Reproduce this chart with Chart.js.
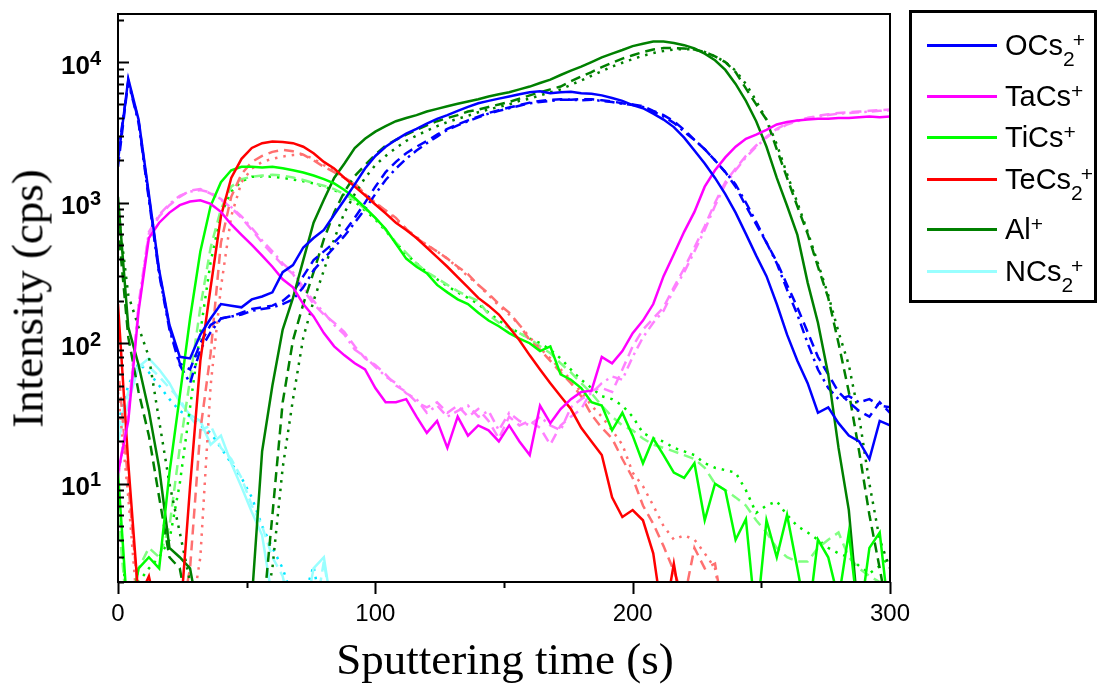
<!DOCTYPE html>
<html>
<head>
<meta charset="utf-8">
<script src="https://cdn.jsdelivr.net/npm/chart.js@4.4.1/dist/chart.umd.min.js"></script>
<style>
  html, body { margin: 0; padding: 0; background: #fff; }
  #wrap { position: relative; width: 1102px; height: 684px; overflow: hidden; }
  #chart { position: absolute; left: 0; top: 0; }
  .axis-title { position: absolute; font-family: "Liberation Serif", serif; font-size: 45px; line-height: 45px; color: #000; white-space: nowrap; text-align: center; }
  #xTitle { left: 0; width: 1010px; top: 637px; }
  #yTitle { left: -172px; top: 276px; width: 400px; height: 45px; transform: rotate(-90deg); }
  #legendBox { position: absolute; left: 909px; top: 10px; width: 188px; height: 293px; box-sizing: border-box; border: 3px solid #000; }
  .lg-line { position: absolute; left: 927px; width: 70px; height: 3px; }
  .lg-text { position: absolute; left: 1005px; font-family: "Liberation Sans", Arial, sans-serif; font-size: 29px; line-height: 29px; color: #000; white-space: nowrap; }
  .lg-text .sub, .lg-text .sup { position: relative; font-size: 21px; line-height: 21px; }
  .lg-text .sub { top: 11px; }
  .lg-text .sup { top: -8px; }
  .lg-text .sub + .sup { margin-left: -2px; }
</style>
</head>
<body>
<div id="wrap">
  <canvas id="chart" width="1102" height="684"></canvas>
  <div class="axis-title" id="xTitle">Sputtering time (s)</div>
  <div class="axis-title" id="yTitle">Intensity (cps)</div>
  <div id="legendBox"></div>
  <div id="legendItems"></div>
</div>
<script>
const TIME = [0,4,8,12,16,20,24,28,32,36,
  40,44,48,52,56,60,64,68,72,76,
  80,84,88,92,96,100,104,108,112,116,
  120,124,128,132,136,140,144,148,152,156,
  160,164,168,172,176,180,184,188,192,196,
  200,204,208,212,216,220,224,228,232,236,
  240,244,248,252,256,260,264,268,272,276,
  280,284,288,292,296,300];

const OCS_1 = [2000,7600,3900,1150,330,135,80,78,115,150,
  190,185,180,205,215,230,320,360,480,560,
  640,820,1050,1350,1750,2150,2500,2800,3100,3350,
  3650,3950,4200,4500,4800,5100,5300,5500,5700,5900,
  6100,6200,6000,6100,6150,6000,5950,5800,5550,5300,
  4950,4700,4300,3900,3450,2900,2350,1900,1500,1150,
  850,600,420,300,190,115,75,52,32,35,
  27,22,20,15,28,26];
const OCS_2 = [1800,7400,3800,1100,320,130,72,65,100,135,
  150,155,165,175,180,185,200,230,300,390,
  450,520,620,780,1000,1300,1650,1950,2250,2500,
  2750,3050,3350,3600,3850,4100,4350,4550,4750,4950,
  5150,5300,5400,5450,5400,5450,5450,5350,5250,5100,
  5000,4850,4500,4200,3800,3300,2800,2400,2000,1650,
  1300,950,700,520,380,260,180,120,80,60,
  45,38,33,30,38,32];
const OCS_3 = [2200,7200,3700,1050,310,125,70,52,90,120,
  150,155,160,170,175,180,190,205,250,330,
  400,480,580,720,900,1150,1450,1750,2050,2350,
  2650,2950,3300,3550,3800,4050,4300,4500,4700,4900,
  5100,5200,5300,5400,5400,5350,5400,5300,5200,5050,
  4950,4800,4450,4100,3700,3200,2800,2400,2000,1650,
  1350,1000,730,520,370,240,160,100,65,48,
  40,42,38,40,36,35];

const TACS_1 = [12,28,170,560,720,850,960,1020,1040,980,
  860,700,590,500,420,350,285,250,190,155,
  118,95,82,72,65,48,38,38,40,30,
  23,28,18,30,22,26,24,20,26,20,
  16,36,27,34,40,45,46,80,72,88,
  118,145,190,300,430,620,860,1300,1700,2100,
  2500,2850,3050,3300,3600,3750,3850,3900,3950,3950,
  4000,4000,4050,4100,4050,4100];
const TACS_2 = [12,30,180,600,800,960,1100,1220,1250,1160,
  1050,920,780,640,520,430,360,310,240,190,
  160,140,120,95,78,70,60,50,45,38,
  35,38,32,36,30,34,28,21,30,26,
  28,25,19,26,30,34,46,48,45,65,
  95,125,150,180,250,340,480,680,1000,1400,
  1750,2150,2550,2950,3350,3650,3850,4000,4150,4250,
  4350,4400,4450,4500,4550,4600];
const TACS_3 = [11,32,190,620,820,980,1120,1200,1230,1180,
  1060,930,800,660,540,450,370,320,250,200,
  165,135,115,90,80,68,58,52,44,40,
  32,36,30,33,36,30,33,24,32,28,
  26,30,26,24,35,40,44,52,58,55,
  80,110,140,170,240,320,450,640,950,1350,
  1700,2100,2500,2900,3300,3600,3800,4000,4100,4200,
  4300,4350,4400,4450,4500,4550];

const TICS_1 = [12,1,2.5,3,2.5,12,42,150,450,950,
  1400,1700,1800,1800,1780,1800,1760,1700,1640,1560,
  1470,1370,1230,1080,920,780,650,510,400,350,
  315,260,230,205,190,165,145,132,118,108,
  100,88,95,60,55,48,38,36,24,32,
  22,14,21,16,12,11,14,5.5,10,9,
  4,5.6,1,5.5,3,6,2.5,1,4,3,
  1.5,4.5,1,3.5,4.5,1];
const TICS_2 = [6,1,2.5,3.5,3,5,18,55,180,480,
  900,1300,1470,1530,1560,1580,1560,1510,1450,1380,
  1320,1250,1150,1040,900,780,640,520,440,370,
  320,290,260,235,215,200,160,140,128,118,
  108,95,85,72,62,52,44,36,30,26,
  24,21,19,18,17,16,15,13,10,9,
  8,7,5.5,4.5,3.5,3,2.8,2.8,3.5,4,
  4.5,3,2.5,2.2,2,2];
const TICS_3 = [8,1,2,2.5,3,4,10,35,120,380,
  820,1200,1420,1530,1540,1530,1500,1460,1420,1370,
  1300,1230,1130,1020,880,760,630,520,430,370,
  320,285,255,230,210,190,165,145,130,118,
  108,100,90,78,65,55,48,42,40,36,
  30,23,21,20,18,17,16,14,13,12.5,
  12,9,6.2,7,7.5,6,5,4.5,4,3.5,
  3.2,3,2.6,2.3,2.6,3];

const TECS_1 = [190,14,1.5,2.2,1,1,1,9.5,75,250,
  800,1500,2050,2450,2650,2720,2700,2650,2500,2250,
  1950,1750,1500,1300,1130,970,840,720,640,560,
  480,410,350,295,250,210,185,160,130,105,
  82,65,52,42,34,25,20,16,8,5.8,
  6.5,5.5,3.2,1,2.7,1,1,1,1,1,
  1,1,1,1,1,1,1,1,1,1,
  1,1,1,1,1,1];
const TECS_2 = [70,10,1.5,1,1,1,1,2.5,24,85,
  520,1100,1600,1950,2150,2300,2380,2320,2200,2000,
  1800,1650,1500,1370,1150,1000,880,780,650,560,
  500,450,400,350,310,260,225,190,165,135,
  105,90,75,62,52,42,31,25,21,15,
  11,7,5.2,3.6,2.4,1.5,3.5,2.5,2.7,1,
  1,1,1,1,1,1,1,1,1,1,
  1,1,1,1,1,1];
const TECS_3 = [45,8,1,1,1,1,1,1,3,50,
  250,800,1400,1750,1950,2050,2130,2180,2200,2050,
  1850,1680,1500,1350,1150,1000,880,760,650,570,
  500,450,400,345,300,260,220,185,160,135,
  110,92,78,65,55,45,36,30,24,19,
  12,9.6,7,5,4,4.3,4,3.2,2.5,1,
  1,1,1,1,1,1,1,1,1,1,
  1,1,1,1,1,1];

const AL_1 = [1100,130,70,33,13,3.5,3,2.5,1,1,
  1,1,1,1.5,17,50,125,210,390,720,
  1050,1500,1900,2450,2850,3200,3500,3800,4000,4200,
  4450,4650,4850,5050,5250,5450,5700,5900,6100,6400,
  6700,7100,7500,8100,8700,9300,10000,10800,11500,12200,
  13000,13500,14000,14000,13700,13200,12500,11500,10300,8800,
  7000,5300,3800,2500,1500,950,590,270,140,60,
  18,6.5,1,1,1,1];
const AL_2 = [700,110,45,22,8,3,2.5,1,1,1,
  1,1,1,1,1,6,38,105,190,320,
  550,850,1200,1550,1850,2200,2550,2800,3050,3300,
  3550,3800,4000,4200,4450,4600,4800,5000,5200,5500,
  5800,6100,6400,6700,7300,7900,8500,9200,9900,10600,
  11200,11800,12300,12600,12600,12500,12300,11800,11000,10000,
  8500,6500,5000,3900,2400,1500,940,600,350,210,
  100,45,17,6,2.5,1];
const AL_3 = [900,220,130,80,28,10,4.5,2,1,1,
  1,1,1,1,1,2.5,13,40,110,200,
  330,550,850,1150,1500,1850,2150,2450,2750,3000,
  3250,3500,3750,3950,4150,4400,4600,4800,5000,5300,
  5500,5800,6100,6400,6900,7400,8000,8600,9300,9900,
  10500,11100,11600,12000,12300,12400,12300,11800,11000,10000,
  8700,7000,5300,3900,2600,1600,1000,620,370,220,
  120,70,30,10,4,2.5];

const NCS_1 = [20,38,68,78,65,52,38,31,28,19,
  22,14,9.5,6.3,4.3,1.5,1,1,1,2.5,
  3,1,1,1,1,1,1,1,1,1,
  1,1,1,1,1,1,1,1,1,1,
  1,1,1,1,1,1,1,1,1,1,
  1,1,1,1,1,1,1,1,1,1,
  1,1,1,1,1,1,1,1,1,1,
  1,1,1,1,1,1];
const NCS_2 = [24,45,70,68,58,48,40,30,24,26,
  18,15,11,7,5,3,2.2,1,1,1,
  2.8,1,1,1,1,1,1,1,1,1,
  1,1,1,1,1,1,1,1,1,1,
  1,1,1,1,1,1,1,1,1,1,
  1,1,1,1,1,1,1,1,1,1,
  1,1,1,1,1,1,1,1,1,1,
  1,1,1,1,1,1];
const NCS_3 = [27,50,72,62,50,40,33,30,26,23,
  18,14,11,8,5,3.5,2.5,1.5,1.5,2.6,
  1,1,1,1,1,1,1,1,1,1,
  1,1,1,1,1,1,1,1,1,1,
  1,1,1,1,1,1,1,1,1,1,
  1,1,1,1,1,1,1,1,1,1,
  1,1,1,1,1,1,1,1,1,1,
  1,1,1,1,1,1];

const LEGEND = [
  { html: 'OCs<span class="sub">2</span><span class="sup">+</span>', color: '#0000ff', y: 45 },
  { html: 'TaCs<span class="sup">+</span>', color: '#ff00ff', y: 96 },
  { html: 'TiCs<span class="sup">+</span>', color: '#00ff00', y: 137 },
  { html: 'TeCs<span class="sub">2</span><span class="sup">+</span>', color: '#ff0000', y: 179 },
  { html: 'Al<span class="sup">+</span>', color: '#008000', y: 229 },
  { html: 'NCs<span class="sub">2</span><span class="sup">+</span>', color: '#99ffff', y: 271 }
];

const DASH = [10, 6];
const DOT = [2.5, 6];
const DASHDOT = [10, 5, 2.5, 5];

function series(label, values, color, dash) {
  return {
    label: label,
    data: TIME.map((t, i) => ({ x: t, y: values[i] })),
    borderColor: color,
    borderWidth: 2.5,
    borderDash: dash || [],
    pointRadius: 0,
    tension: 0,
    fill: false
  };
}

const datasets = [
  series('OCs2+ a', OCS_1, '#0000ff'),
  series('TaCs+ a', TACS_1, '#ff00ff'),
  series('TeCs2+ a', TECS_1, '#ff0000'),
  series('TiCs+ a', TICS_1, '#00ff00'),
  series('Al+ a', AL_1, '#008000'),
  series('OCs2+ b', OCS_2, '#0000ff', DASH),
  series('OCs2+ c', OCS_3, '#0000ff', DASHDOT),
  series('Al+ b', AL_2, '#008000', DASH),
  series('Al+ c', AL_3, '#008000', DOT),
  series('TaCs+ b', TACS_2, '#ff80ff', DASH),
  series('TaCs+ c', TACS_3, '#ff80ff', DASHDOT),
  series('TeCs2+ b', TECS_2, '#ff7070', DASH),
  series('TeCs2+ c', TECS_3, '#ff7070', DOT),
  series('TiCs+ b', TICS_2, '#80ff80', DASH),
  series('TiCs+ c', TICS_3, '#00ee00', DOT),
  series('NCs2+ a', NCS_1, '#99ffff'),
  series('NCs2+ b', NCS_2, '#99ffff', DASH),
  series('NCs2+ c', NCS_3, '#00e5ff', DOT)
];

// frame, inward/outward tick marks and 10^n labels
const axisDecor = {
  id: 'axisDecor',
  afterDraw(chart) {
    const { ctx, chartArea: a, scales: { x, y } } = chart;
    ctx.save();
    ctx.strokeStyle = '#000';
    ctx.lineWidth = 2;
    ctx.strokeRect(a.left, a.top, a.right - a.left, a.bottom - a.top);

    ctx.beginPath();
    for (let d = 0; d <= 4; d++) {
      for (let m = 1; m <= 9; m++) {
        const v = m * Math.pow(10, d);
        if (v < y.min || v > y.max) continue;
        const py = Math.round(y.getPixelForValue(v)) + 0.5;
        ctx.moveTo(a.left, py);
        ctx.lineTo(a.left + (m === 1 ? 11 : 6), py);
      }
    }
    for (let v = 0; v <= 300; v += 50) {
      const px = Math.round(x.getPixelForValue(v)) + 0.5;
      ctx.moveTo(px, a.bottom);
      ctx.lineTo(px, a.bottom + (v % 100 === 0 ? 12 : 6));
    }
    ctx.stroke();

    ctx.fillStyle = '#000';
    for (let d = 1; d <= 4; d++) {
      const py = y.getPixelForValue(Math.pow(10, d));
      ctx.font = 'bold 26px "Liberation Sans", Arial, sans-serif';
      ctx.textAlign = 'right';
      ctx.textBaseline = 'alphabetic';
      ctx.fillText('10', 90, py + 11.5);
      ctx.font = 'bold 20px "Liberation Sans", Arial, sans-serif';
      ctx.textAlign = 'left';
      ctx.fillText(String(d), 90, py + 2.5);
    }
    ctx.restore();
  }
};

new Chart(document.getElementById('chart'), {
  type: 'line',
  data: { datasets: datasets },
  options: {
    responsive: false,
    animation: false,
    devicePixelRatio: 1,
    layout: { padding: { left: 0, right: 212, top: 14, bottom: 0 } },
    plugins: { legend: { display: false }, tooltip: { enabled: false } },
    scales: {
      x: {
        type: 'linear',
        min: 0,
        max: 300,
        grid: { display: false, drawTicks: false },
        border: { display: false },
        ticks: {
          stepSize: 100,
          maxRotation: 0,
          padding: 18,
          color: '#000',
          font: { family: '"Liberation Sans", Arial, sans-serif', size: 24 }
        },
        afterFit(scale) { scale.height = 102; }
      },
      y: {
        type: 'logarithmic',
        min: 2,
        max: 22000,
        grid: { display: false, drawTicks: false },
        border: { display: false },
        ticks: { display: false },
        afterFit(scale) { scale.width = 118; }
      }
    }
  },
  plugins: [axisDecor]
});

document.getElementById('legendItems').innerHTML = LEGEND.map(l => `
  <div class="lg-line" style="top:${l.y - 1.5}px;background:${l.color}"></div>
  <div class="lg-text" style="top:${l.y - 14.5}px">${l.html}</div>
`).join('');
</script>
</body>
</html>
